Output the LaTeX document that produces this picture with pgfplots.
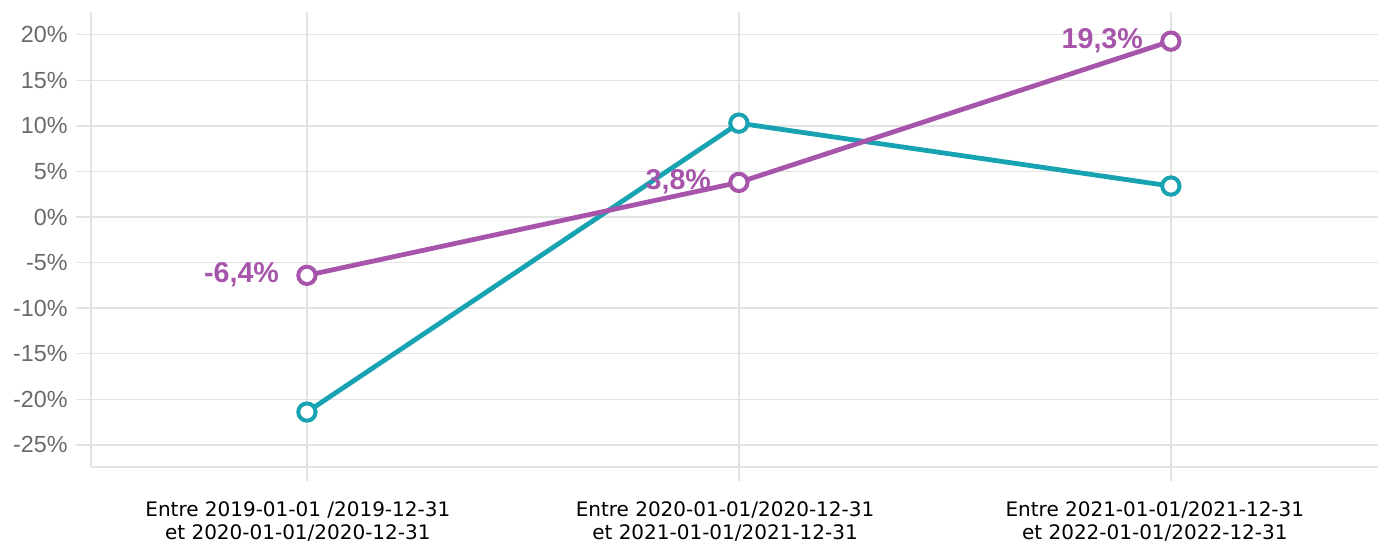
\documentclass[border=0pt]{standalone}
\usepackage{fontspec}
\setmainfont{Liberation Sans}
\newfontfamily\dejavu{DejaVu Sans}
\usepackage{pgfplots}
\pgfplotsset{compat=1.18}
\definecolor{teal1}{HTML}{17A3B2}
\definecolor{purp1}{HTML}{A655AA}
\definecolor{gridc}{HTML}{E3E3E3}
\definecolor{tickc}{HTML}{6A6A6A}
\begin{document}
\begin{tikzpicture}
\begin{axis}[
  scale only axis,
  width=966pt, height=341.25pt,
  xmin=-0.5, xmax=2.48,
  ymin=-27.4, ymax=22.5,
  xtick={0,1,2},
  xticklabels={},
  extra x ticks={-0.021,0.968,1.963},
  extra x tick labels={{Entre 2019-01-01 /2019-12-31\\et 2020-01-01/2020-12-31},{Entre 2020-01-01/2020-12-31\\et 2021-01-01/2021-12-31},{Entre 2021-01-01/2021-12-31\\et 2022-01-01/2022-12-31}},
  extra x tick style={grid=none, tick style={draw=none},
    xticklabel style={align=center, font=\dejavu\fontsize{15}{17}\selectfont, text=black, yshift=-12pt}},
  ytick={-25,-20,...,20},
  yticklabel={\pgfmathprintnumber{\tick}\%},
  yticklabel style={font=\fontsize{17.5}{20}\selectfont, text=tickc, xshift=-3pt},
  /pgf/number format/assume math mode=true,
  grid=major,
  major grid style={gridc, line width=1pt},
  axis x line*=bottom, axis y line*=left,
  axis line style={gridc, line width=1.2pt, -},
  tick align=outside,
  major tick length=11pt,
  tick style={gridc, line width=1pt},
  clip=false,
]
\addplot[teal1, line width=3.6pt, mark=*, mark size=6.5pt,
  mark options={fill=white, draw=teal1, line width=3pt}]
  coordinates {(0,-21.4) (1,10.3) (2,3.4)};
\addplot[purp1, line width=3.6pt, mark=*, mark size=6.5pt,
  mark options={fill=white, draw=purp1, line width=3pt},
  point meta=explicit symbolic, nodes near coords,
  every node near coord/.style={anchor=east, inner sep=0pt, xshift=-19.5pt, yshift=0.5pt,
    font=\bfseries\fontsize{21.5}{23}\selectfont, text=purp1}]
  coordinates {(0,-6.4) [-6,4\%] (1,3.8) [3,8\%] (2,19.3) [19,3\%]};
\end{axis}
\path (current axis.south west) ++(-68.25pt,-55.5pt) coordinate (bl);
\path (current axis.north east) ++(0pt,9pt) coordinate (tr);
\useasboundingbox (bl) rectangle (tr);
\end{tikzpicture}
\end{document}
